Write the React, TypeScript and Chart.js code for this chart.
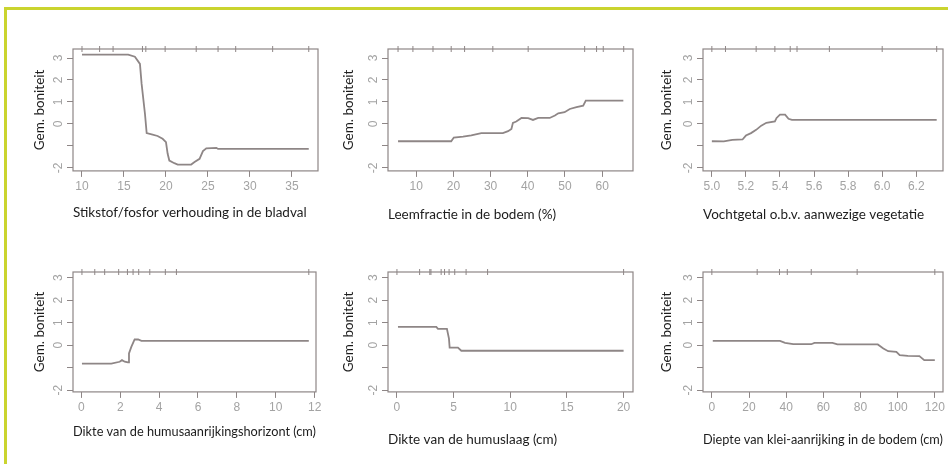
import React, { useEffect, useRef } from 'react';
import { Chart, registerables } from 'chart.js';

Chart.register(...registerables);

// ---------- data ----------
const p1X = [10, 15.5, 16.3, 16.9, 17.1, 17.5, 17.7, 18.3, 19.0, 19.6, 20.0, 20.2, 20.4, 21.0, 21.4, 23.0, 23.4, 24.0, 24.4, 24.8, 26.0, 26.2, 37.0];
const p1Y = [3.15, 3.15, 3.06, 2.73, 1.82, 0.45, -0.42, -0.48, -0.55, -0.68, -0.83, -1.36, -1.67, -1.79, -1.85, -1.85, -1.74, -1.59, -1.24, -1.11, -1.09, -1.14, -1.14];

const p2X = [5.1, 19.4, 20.1, 22.6, 24.8, 27.5, 33.3, 34.7, 35.6, 36.0, 36.9, 38.3, 40.1, 41.4, 42.8, 45.9, 47.3, 48.2, 49.9, 51.3, 53.1, 54.9, 55.6, 65.7];
const p2Y = [-0.79, -0.79, -0.62, -0.58, -0.52, -0.42, -0.42, -0.33, -0.23, 0.05, 0.11, 0.27, 0.26, 0.18, 0.27, 0.27, 0.38, 0.48, 0.53, 0.68, 0.76, 0.83, 1.06, 1.06];

const p3X = [5.0, 5.07, 5.12, 5.18, 5.2, 5.23, 5.26, 5.29, 5.32, 5.37, 5.38, 5.40, 5.43, 5.45, 5.47, 6.32];
const p3Y = [-0.79, -0.80, -0.73, -0.71, -0.53, -0.42, -0.27, -0.08, 0.05, 0.11, 0.27, 0.42, 0.42, 0.23, 0.18, 0.18];

const p4X = [0.03, 1.54, 1.97, 2.09, 2.23, 2.4, 2.45, 2.57, 2.74, 2.92, 3.09, 11.7];
const p4Y = [-0.82, -0.82, -0.74, -0.67, -0.74, -0.77, -0.37, -0.08, 0.25, 0.25, 0.19, 0.19];

const p5X = [0.09, 3.47, 3.62, 4.41, 4.59, 4.65, 5.38, 5.68, 20];
const p5Y = [0.81, 0.81, 0.72, 0.72, 0.29, -0.11, -0.11, -0.25, -0.25];

const p6X = [0.5, 36.7, 39.4, 43.8, 53.5, 55.2, 64.9, 67.6, 89.3, 92.3, 94.9, 99.3, 101.1, 105.5, 111.7, 114.3, 120];
const p6Y = [0.19, 0.19, 0.10, 0.04, 0.04, 0.10, 0.10, 0.03, 0.03, -0.15, -0.27, -0.30, -0.45, -0.48, -0.49, -0.67, -0.67];

// rug (deciles of predictor)
const r1 = [10, 12.1, 13.7, 17.2, 17.6, 19.9, 23.6, 26.2, 28.3, 32.7, 37.0];
const r2 = [5.1, 9.1, 14.5, 19.4, 23.0, 30.6, 40.1, 55.3, 58.5, 60.3, 65.8];
const r3 = [5.0, 5.08, 5.26, 5.37, 5.46, 5.5, 5.69, 6.0, 6.32];
const r4 = [0.03, 0.69, 1.2, 1.92, 2.37, 2.66, 2.95, 3.52, 4.32, 4.89, 11.7];
const r5 = [0, 2.0, 2.9, 3.0, 3.9, 4.2, 4.6, 5.1, 6.1, 8.0, 20];
const r6 = [0, 24.4, 36.4, 40.6, 53.5, 78.2, 120];

// x ticks
const t1 = [10, 15, 20, 25, 30, 35];
const t1L = ['10', '15', '20', '25', '30', '35'];
const t2 = [10, 20, 30, 40, 50, 60];
const t2L = ['10', '20', '30', '40', '50', '60'];
const t3 = [5.0, 5.2, 5.4, 5.6, 5.8, 6.0, 6.2];
const t3L = ['5.0', '5.2', '5.4', '5.6', '5.8', '6.0', '6.2'];
const t4 = [0, 2, 4, 6, 8, 10, 12];
const t4L = ['0', '2', '4', '6', '8', '10', '12'];
const t5 = [0, 5, 10, 15, 20];
const t5L = ['0', '5', '10', '15', '20'];
const t6 = [0, 20, 40, 60, 80, 100, 120];
const t6L = ['0', '20', '40', '60', '80', '100', '120'];

// y ticks
const yTicks = [-2, -1, 0, 1, 2, 3];
const yTickLabels = ['-2', '', '0', '1', '2', '3'];
const yTitle = 'Gem. boniteit';

const xTitles = [
  'Stikstof/fosfor verhouding in de bladval',
  'Leemfractie in de bodem (%)',
  'Vochtgetal o.b.v. aanwezige vegetatie',
  'Dikte van de humusaanrijkingshorizont (cm)',
  'Dikte van de humuslaag (cm)',
  'Diepte van klei-aanrijking in de bodem (cm)',
];

const PANELS = [
  { xs: p1X, ys: p1Y, rug: r1, ticks: t1, tickLabels: t1L, title: xTitles[0] },
  { xs: p2X, ys: p2Y, rug: r2, ticks: t2, tickLabels: t2L, title: xTitles[1] },
  { xs: p3X, ys: p3Y, rug: r3, ticks: t3, tickLabels: t3L, title: xTitles[2] },
  { xs: p4X, ys: p4Y, rug: r4, ticks: t4, tickLabels: t4L, title: xTitles[3] },
  { xs: p5X, ys: p5Y, rug: r5, ticks: t5, tickLabels: t5L, title: xTitles[4] },
  { xs: p6X, ys: p6Y, rug: r6, ticks: t6, tickLabels: t6L, title: xTitles[5] },
];

// ---------- layout & style ----------
const LAYOUT = [
  { l: 73, t: 49, r: 318, b: 171, xMin: 8.93, xMax: 38.1, yMin: -2.14, yMax: 3.41, yTitleOff: 33.5, xTitleY: 213 },
  { l: 388, t: 49, r: 633, b: 171, xMin: 2.4, xMax: 68.3, yMin: -2.14, yMax: 3.41, yTitleOff: 39, xTitleY: 215 },
  { l: 703, t: 49, r: 945, b: 171, xMin: 4.948, xMax: 6.357, yMin: -2.14, yMax: 3.41, yTitleOff: 36, xTitleY: 215 },
  { l: 73, t: 272, r: 316, b: 392, xMin: -0.43, xMax: 12.07, yMin: -2.08, yMax: 3.25, yTitleOff: 33.5, xTitleY: 432 },
  { l: 388, t: 272, r: 633, b: 392, xMin: -0.79, xMax: 20.83, yMin: -2.08, yMax: 3.25, yTitleOff: 39, xTitleY: 440 },
  { l: 703, t: 272, r: 947, b: 392, xMin: -4.76, xMax: 124.4, yMin: -2.08, yMax: 3.25, yTitleOff: 36, xTitleY: 440 },
];

const LINE = '#8e8686';
const TICK_COLOR = '#a3a3a3';
const TEXT_COLOR = '#1c1c1c';
const FRAME = '#cad42f';
const TITLE_FAMILY = "Lato, 'Noto Sans', sans-serif";
const TITLE_SIZE = 13.5;
const TITLE_LH = TITLE_SIZE * 1.2;
const TICK_FONT = { family: "'Liberation Sans', Arial, sans-serif", size: 12 };
const YW = 50;
const PT = 5;
const PAGE_W = 948;

const boxPlugin = {
  id: 'rbox',
  beforeDatasetsDraw(chart: any) {
    const { ctx, chartArea } = chart;
    const { left, top, right, bottom } = chartArea;
    ctx.save();
    ctx.strokeStyle = LINE;
    ctx.lineWidth = 1.2;
    ctx.strokeRect(left, top, right - left, bottom - top);
    ctx.restore();
  },
};

function Panel({ idx }: { idx: number }) {
  const ref = useRef<HTMLCanvasElement>(null);
  const L = LAYOUT[idx];
  const D = PANELS[idx];
  const PR = Math.min(10, PAGE_W - L.r);
  const XH = L.xTitleY - L.b + TITLE_LH / 2;
  const cx = L.l - YW;
  const cy = L.t - PT;
  const cw = L.r - L.l + YW + PR;
  const ch = Math.round(PT + (L.b - L.t) + XH);

  useEffect(() => {
    if (!ref.current) return;
    const chart = new Chart(ref.current, {
      type: 'scatter',
      data: {
        datasets: [
          {
            data: D.xs.map((x, i) => ({ x, y: D.ys[i] })),
            showLine: true,
            borderColor: LINE,
            borderWidth: 1.8,
            pointRadius: 0,
            tension: 0,
          } as any,
          {
            data: D.rug.map((x) => ({ x, y: L.yMax })),
            showLine: false,
            pointStyle: 'line',
            rotation: 90,
            pointRadius: 3,
            borderColor: LINE,
            borderWidth: 1,
            clip: false,
          } as any,
        ],
      },
      options: {
        animation: false,
        responsive: false,
        events: [],
        layout: { padding: { top: PT, right: PR, left: 0, bottom: 0 } },
        plugins: { legend: { display: false }, tooltip: { enabled: false } },
        scales: {
          x: {
            type: 'linear',
            min: L.xMin,
            max: L.xMax,
            afterBuildTicks: (s: any) => {
              s.ticks = D.ticks.map((v) => ({ value: v }));
            },
            afterFit: (s: any) => {
              s.height = XH;
              s.paddingLeft = 0;
              s.paddingRight = 0;
            },
            grid: { drawOnChartArea: false, drawTicks: true, tickLength: 6, color: LINE, lineWidth: 1 },
            border: { display: false },
            ticks: {
              autoSkip: false,
              maxRotation: 0,
              minRotation: 0,
              padding: 3,
              color: TICK_COLOR,
              font: TICK_FONT,
              callback: (_v: any, i: number) => D.tickLabels[i],
            },
            title: {
              display: true,
              text: D.title,
              align: 'start',
              padding: 0,
              color: TEXT_COLOR,
              font: { family: TITLE_FAMILY, size: TITLE_SIZE },
            },
          },
          y: {
            type: 'linear',
            min: L.yMin,
            max: L.yMax,
            afterBuildTicks: (s: any) => {
              s.ticks = yTicks.map((v) => ({ value: v }));
            },
            afterFit: (s: any) => {
              s.width = YW;
              s.paddingTop = 0;
              s.paddingBottom = 0;
            },
            grid: { drawOnChartArea: false, drawTicks: true, tickLength: 6, color: LINE, lineWidth: 1 },
            border: { display: false },
            ticks: {
              autoSkip: false,
              minRotation: 90,
              maxRotation: 90,
              crossAlign: 'center',
              padding: 3,
              color: TICK_COLOR,
              font: TICK_FONT,
              callback: (_v: any, i: number) => yTickLabels[i],
            },
            title: {
              display: true,
              text: yTitle,
              padding: { top: Math.max(0, YW - L.yTitleOff - TITLE_LH / 2), bottom: 0 },
              color: TEXT_COLOR,
              font: { family: TITLE_FAMILY, size: TITLE_SIZE },
            },
          },
        },
      } as any,
      plugins: [boxPlugin],
    });
    return () => chart.destroy();
  }, []);

  return (
    <canvas
      ref={ref}
      width={cw}
      height={ch}
      style={{ position: 'absolute', left: cx, top: cy, width: cw, height: ch }}
    />
  );
}

export default function App() {
  return (
    <div
      style={{
        position: 'absolute',
        left: 0,
        top: 0,
        width: PAGE_W,
        height: 464,
        overflow: 'hidden',
        background: '#ffffff',
      }}
    >
      <div style={{ position: 'absolute', left: 4, top: 7, width: 944, height: 3, background: FRAME }} />
      <div style={{ position: 'absolute', left: 4, top: 7, width: 3, height: 457, background: FRAME }} />
      {PANELS.map((_, i) => (
        <Panel key={i} idx={i} />
      ))}
    </div>
  );
}
